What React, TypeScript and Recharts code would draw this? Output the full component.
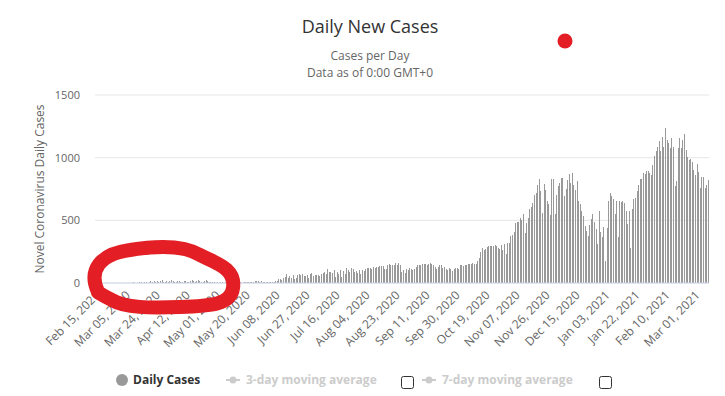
import React from "react";
import { BarChart, Bar, XAxis, YAxis, CartesianGrid } from "recharts";

// daily new cases
const feb2020 = [0, 0, 0, 0, 0, 0, 0, 0, 0, 0, 0, 0, 0, 0, 0];
const mar2020 = [
  0, 0, 0, 0, 0, 0, 0, 0, 2, 4, 0, 3, 1, 5, 7, 2, 4, 6, 3, 5,
  12, 8, 15, 10, 18, 6, 14, 20, 11, 9, 16,
];
const apr2020 = [
  7, 13, 22, 15, 10, 8, 17, 12, 5, 9, 14, 18, 11, 6, 13, 20, 16, 9, 12, 24,
  15, 10, 7, 18, 21, 14, 9, 6, 11, 8,
];
const may2020 = [
  3, 5, 2, 6, 4, 2, 7, 3, 5, 2, 4, 6, 3, 2, 8, 4, 6, 3, 5, 9,
  4, 6, 10, 5, 7, 14, 16, 15, 9, 17, 6,
];
const jun2020 = [
  8, 5, 7, 9, 6, 8, 10, 12, 13, 29, 29, 21, 43, 51, 69, 37, 53, 43, 61, 35,
  43, 64, 72, 66, 69, 56, 59, 64, 40, 69,
];
const jul2020 = [
  77, 56, 61, 64, 64, 59, 72, 77, 85, 69, 109, 88, 85, 83, 104, 51, 91, 69, 104, 51,
  96, 69, 117, 104, 85, 117, 112, 91, 98, 77, 107,
];
const aug2020 = [
  69, 106, 96, 112, 120, 117, 120, 109, 125, 120, 130, 128, 136, 133, 133, 109, 109, 141, 149, 141,
  141, 141, 162, 141, 157, 141, 88, 106, 80, 109, 101,
];
const sep2020 = [
  122, 109, 101, 114, 128, 141, 141, 141, 149, 154, 154, 146, 154, 160, 154, 141, 128, 114, 128, 141,
  146, 120, 128, 114, 101, 122, 112, 96, 112, 117,
];
const oct2020 = [
  117, 114, 146, 141, 136, 144, 141, 149, 149, 152, 160, 155, 149, 178, 197, 248, 281, 265, 275, 289,
  297, 294, 297, 297, 300, 294, 278, 273, 302, 265, 313,
];
const nov2020 = [
  230, 321, 316, 373, 386, 405, 481, 489, 489, 516, 500, 554, 400, 481, 521, 589, 610, 640, 702, 718,
  778, 832, 737, 556, 786, 745, 656, 629, 543, 832,
];
const dec2020 = [
  832, 548, 702, 772, 799, 837, 837, 697, 751, 820, 872, 799, 878, 783, 745, 810, 656, 629, 575, 535,
  454, 413, 378, 459, 508, 548, 486, 427, 313, 572, 405,
];
const jan2021 = [
  367, 446, 176, 440, 656, 718, 691, 670, 554, 656, 367, 656, 648, 656, 637, 575, 467, 572, 278, 589,
  670, 675, 737, 783, 832, 832, 878, 872, 891, 896, 880,
];
const feb2021 = [
  864, 940, 1013, 1053, 1088, 1129, 1053, 1161, 1088, 1237, 1142, 1115, 1075, 1156, 1088, 772, 810, 1080, 1156, 1075,
  1142, 1188, 1061, 1007, 980, 988, 967, 899,
];
const mar2021 = [859, 953, 886, 759, 845, 845, 759, 778, 818];

const months = [
  { name: "Feb", year: 2020, first: 15, values: feb2020 },
  { name: "Mar", year: 2020, first: 1, values: mar2020 },
  { name: "Apr", year: 2020, first: 1, values: apr2020 },
  { name: "May", year: 2020, first: 1, values: may2020 },
  { name: "Jun", year: 2020, first: 1, values: jun2020 },
  { name: "Jul", year: 2020, first: 1, values: jul2020 },
  { name: "Aug", year: 2020, first: 1, values: aug2020 },
  { name: "Sep", year: 2020, first: 1, values: sep2020 },
  { name: "Oct", year: 2020, first: 1, values: oct2020 },
  { name: "Nov", year: 2020, first: 1, values: nov2020 },
  { name: "Dec", year: 2020, first: 1, values: dec2020 },
  { name: "Jan", year: 2021, first: 1, values: jan2021 },
  { name: "Feb", year: 2021, first: 1, values: feb2021 },
  { name: "Mar", year: 2021, first: 1, values: mar2021 },
];

const yTicks = [0, 500, 1000, 1500];

const chartData = months.flatMap((m) =>
  m.values.map((v, i) => ({
    date: `${m.name} ${String(m.first + i).padStart(2, "0")}, ${m.year}`,
    cases: v,
  }))
);

const FONT = "'Open Sans', sans-serif";

const DateTick = (props: any) => {
  const { x, y, payload } = props;
  return (
    <g transform={`translate(${x + 5},${y + 13})`}>
      <text textAnchor="end" transform="rotate(-45)" fontSize={12} fill="#666" fontFamily={FONT}>
        {payload.value}
      </text>
    </g>
  );
};

const CountTick = (props: any) => {
  const { x, y, payload } = props;
  return (
    <text x={x} y={y} dy={4} textAnchor="end" fontSize={11} fill="#666" fontFamily={FONT}>
      {payload.value}
    </text>
  );
};

const CaseBar = (props: any) => {
  const { x, y, width, height } = props;
  if (!height || height <= 0) return null;
  return <rect x={x} y={y} width={width} height={height} fill="#999" shapeRendering="crispEdges" />;
};

export default function App() {
  return (
    <div style={{ position: "absolute", left: 0, top: 0, width: 725, height: 396, background: "#fff" }}>
      <BarChart
        width={725}
        height={396}
        data={chartData}
        margin={{ top: 95, right: 16, bottom: 53, left: 0 }}
        barCategoryGap="15%"
      >
        <CartesianGrid vertical={false} stroke="#e6e6e6" />
        <XAxis
          dataKey="date"
          interval={18}
          height={60}
          tickSize={0}
          tickMargin={0}
          tickLine={false}
          axisLine={{ stroke: "#ccd6eb" }}
          tick={<DateTick />}
        />
        <YAxis
          width={95}
          domain={[0, 1500]}
          ticks={yTicks}
          tickSize={0}
          tickMargin={15}
          tickLine={false}
          axisLine={false}
          tick={<CountTick />}
        />
        <Bar dataKey="cases" fill="#999" isAnimationActive={false} shape={<CaseBar />} />
      </BarChart>

      <svg
        width={725}
        height={396}
        style={{ position: "absolute", left: 0, top: 0, pointerEvents: "none" }}
        fontFamily={FONT}
      >
        <text x={370} y={33} textAnchor="middle" fontSize={18} fill="#333">
          Daily New Cases
        </text>
        <text x={370} y={60} textAnchor="middle" fontSize={12} fill="#666">
          Cases per Day
        </text>
        <text x={370} y={77} textAnchor="middle" fontSize={12} fill="#666">
          Data as of 0:00 GMT+0
        </text>
        <text transform="translate(44,189) rotate(-90)" textAnchor="middle" fontSize={12} fill="#666">
          Novel Coronavirus Daily Cases
        </text>

        {/* legend */}
        <circle cx={122} cy={380} r={6} fill="#999" />
        <text x={133} y={384} fontSize={12} fontWeight="bold" fill="#333">
          Daily Cases
        </text>
        <line x1={226} y1={380} x2={240} y2={380} stroke="#ccc" strokeWidth={2} />
        <circle cx={233} cy={380} r={3.5} fill="#ccc" />
        <text x={246} y={384} fontSize={12} fontWeight="bold" fill="#ccc">
          3-day moving average
        </text>
        <rect x={401.5} y={376.5} width={12} height={12} rx={2} fill="#fff" stroke="#333" />
        <line x1={422} y1={380} x2={436} y2={380} stroke="#ccc" strokeWidth={2} />
        <circle cx={429} cy={380} r={3.5} fill="#ccc" />
        <text x={442} y={384} fontSize={12} fontWeight="bold" fill="#ccc">
          7-day moving average
        </text>
        <rect x={599.5} y={376.5} width={12} height={12} rx={2} fill="#fff" stroke="#333" />

        {/* red marker annotations */}
        <circle cx={565} cy={41} r={7.5} fill="#e31e24" />
        <path
          d="M 98 292 C 88 270, 100 254, 130 250 C 160 245, 185 246, 200 255 C 215 263, 236 268, 233 288 C 231 305, 210 306, 180 307 C 150 308, 125 308, 112 300 C 104 296, 100 294, 98 292 Z"
          fill="none"
          stroke="#e31e24"
          strokeWidth={14}
          strokeLinejoin="round"
        />
      </svg>
    </div>
  );
}
